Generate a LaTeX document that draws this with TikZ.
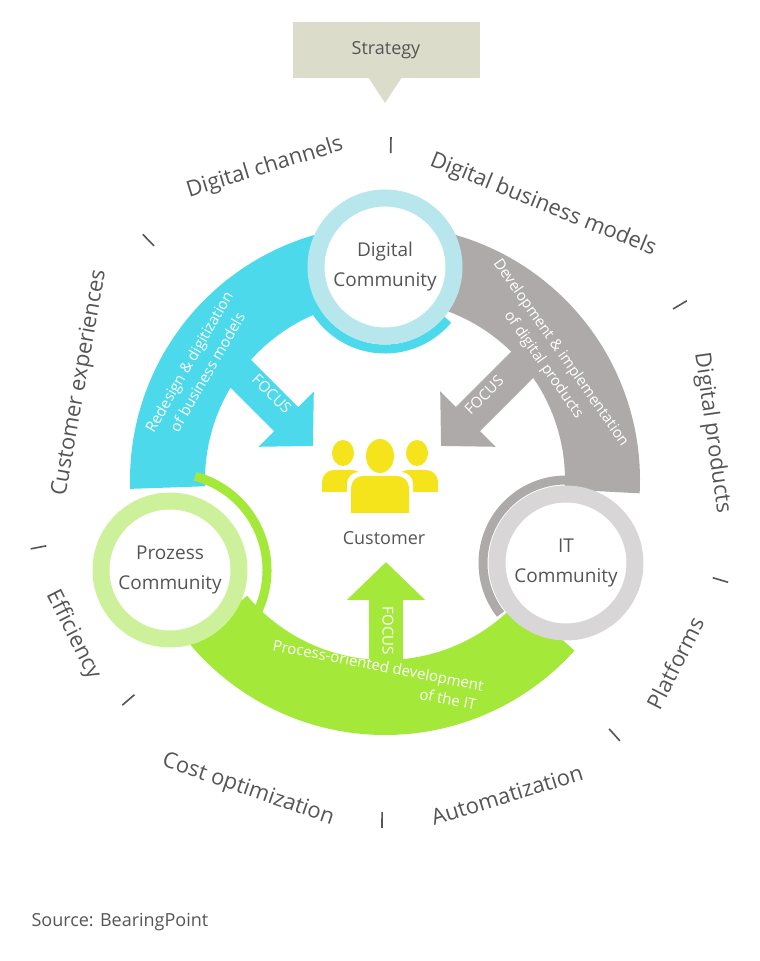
\documentclass[tikz,border=0pt]{standalone}
\usepackage{fontspec}
\setmainfont{Open Sans}
\usetikzlibrary{arrows.meta}
\definecolor{cblue}{HTML}{4DD9EC}
\definecolor{lblue}{HTML}{B7E6EC}
\definecolor{cgray}{HTML}{AEAAAA}
\definecolor{lgray}{HTML}{D8D6D6}
\definecolor{cgreen}{HTML}{A4E83A}
\definecolor{lgreen}{HTML}{CDF19A}
\definecolor{cyel}{HTML}{F5E31B}
\definecolor{ctext}{HTML}{555555}
\definecolor{cstrat}{HTML}{DCDCCB}
\tikzset{
  outer/.style={text=ctext,font=\fontsize{22}{26}\selectfont},
  comm/.style={circle,line width=17,fill=white,minimum size=138pt,inner sep=0pt,align=center,text=ctext,font=\fontsize{19}{30}\selectfont},
  band/.style={text=white,align=center,font=\fontsize{15}{21}\selectfont},
  focus/.style={text=white,font=\fontsize{15}{18}\selectfont},
  tick/.style={draw=ctext,line width=1.6},
  farrow/.style={line width=34,-{Triangle[length=38pt,width=76pt]}}
}
\newcommand{\person}[5]{% x, bottom, top, halfwidth, colour
  \fill[#5] (#1-#4,#2) -- (#1-#4,#3-12) arc[start angle=180,end angle=90,radius=12] -- (#1+#4-12,#3) arc[start angle=90,end angle=0,radius=12] -- (#1+#4,#2) -- cycle;}
\begin{document}
\begin{tikzpicture}[x=1pt,y=1pt]
\useasboundingbox (0,0) rectangle (760,961);
% strategy box
\fill[cstrat] (293,939) rectangle (480,883);
\fill[cstrat] (368,884) -- (402,884) -- (385,858) -- cycle;
\node[text=ctext,font=\fontsize{18}{22}\selectfont] (strat) at (386,911) {Strategy};
% bands
\begin{scope}[shift={(385,481)}]
\fill[cblue] (90:255) arc[start angle=90,end angle=182,radius=255] -- (182:180) arc[start angle=182,end angle=90,radius=180] -- cycle;
\fill[cgray] (90:255) arc[start angle=90,end angle=-3,radius=255] -- (-3:180) arc[start angle=-3,end angle=90,radius=180] -- cycle;
\fill[cgreen] (220:255) arc[start angle=220,end angle=318,radius=255] -- (318:180) arc[start angle=318,end angle=220,radius=180] -- cycle;
\end{scope}
% thin arcs
\draw[cblue,line width=9] (385,694) ++(195:82) arc[start angle=195,end angle=320,radius=82];
\draw[cgray,line width=9] (566,398) ++(90:83) arc[start angle=90,end angle=218,radius=83];
\draw[cgreen,line width=9] (170,391) ++(75:97) arc[start angle=75,end angle=-50,radius=97];
% communities
\node[comm,draw=lblue] (dig) at (385,694) {Digital\\Community};
\node[comm,draw=lgreen] (proz) at (170,391) {Prozess\\Community};
\node[comm,draw=lgray] (itc) at (566,398) {IT\\Community};
% focus arrows
\coordinate (bs) at (200,628); \coordinate (bt) at (313,515);
\draw[farrow,cblue] (bs) -- (bt);
\node[focus,rotate=-45] (bf) at (272,567) {FOCUS};
\coordinate (gs) at (554,628); \coordinate (gt) at (441,515);
\draw[farrow,cgray] (gs) -- (gt);
\node[focus,rotate=45] (gf) at (484,566) {FOCUS};
\coordinate (ns) at (386,290); \coordinate (nt) at (386,399);
\draw[farrow,cgreen] (ns) -- (nt);
\node[focus,rotate=-90] (nf) at (388,330) {FOCUS};
% band texts
\node[band,rotate=60] (bt1) at (198,594) {Redesign \& digitization\\of business models};
\node[band,rotate=-55] (gt1) at (552,602) {Development \& implementation\\of digital products};
\node[band,rotate=-11] (nt1) at (378,294) {Process-oriented development};
\node[band,rotate=-11] (nt2) at (448,262) {of the IT};
% customer icon
\person{343}{469}{491}{21}{cyel}
\fill[cyel] (343,508) ellipse (11 and 13);
\person{417}{469}{491}{21}{cyel}
\fill[cyel] (417,508) ellipse (11 and 13);
\fill[white] (380,505) ellipse (17 and 20);
\person{380}{444}{489}{33}{white}
\fill[cyel] (380,505) ellipse (14 and 17);
\person{380}{448}{485}{29}{cyel}
\node[text=ctext,font=\fontsize{18}{22}\selectfont] (cust) at (384,423) {Customer};
% outer labels
\node[outer,rotate=17] (l1) at (265,793) {Digital channels};
\node[outer,rotate=-22] (l2) at (543,756) {Digital business models};
\node[outer,rotate=80] (l3) at (80,578) {Customer experiences};
\node[outer,rotate=-82] (l4) at (712,528) {Digital products};
\node[outer,rotate=-63] (l5) at (73,326) {Efficiency};
\node[outer,rotate=-19] (l6) at (248,171) {Cost optimization};
\node[outer,rotate=17] (l7) at (507,166) {Automatization};
\node[outer,rotate=63] (l8) at (675,298) {Platforms};
% ticks
\begin{scope}[shift={(385,481)}]
\foreach \a/\r in {89/335,134.6/337,30.7/343,191/353,-16.6/350,220.6/338,-48/343,-90.5/340}
  \draw[tick] (\a:\r-8) -- (\a:\r+8);
\end{scope}
\node[anchor=west,text=ctext,font=\fontsize{18}{22}\selectfont] (src) at (28,39) {Source: BearingPoint};
\end{tikzpicture}
\end{document}
